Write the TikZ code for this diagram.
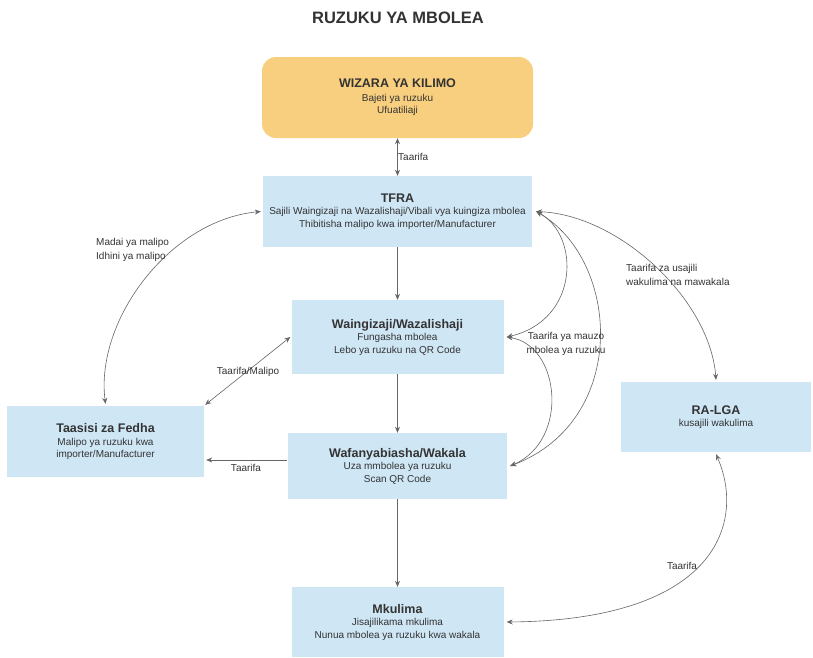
\documentclass[tikz,border=0pt]{standalone}
\usepackage{fontspec}
\setmainfont{Liberation Sans}
\usetikzlibrary{arrows.meta}
\definecolor{boxblue}{HTML}{CFE6F5}
\definecolor{boxorange}{HTML}{F8CF7E}
\definecolor{linegray}{HTML}{666666}
\definecolor{txt}{HTML}{333333}
\newcommand{\ttl}[1]{{\fontsize{12.5}{15}\selectfont\bfseries #1}}
\begin{document}
\begin{tikzpicture}[x=1pt,y=-1pt,
  box/.style={draw=none, fill=boxblue, align=center, inner sep=0pt, text=txt,
              font=\fontsize{10}{12.5}\selectfont},
  orangebox/.style={box, fill=boxorange, rounded corners=14pt},
  lbl/.style={text=txt, font=\fontsize{10}{14.5}\selectfont, inner sep=0pt},
  conn/.style={draw=linegray, line width=0.6pt, -{Stealth[length=6pt,width=5pt]}},
  bidir/.style={draw=linegray, line width=0.6pt, {Stealth[length=6pt,width=5pt]}-{Stealth[length=6pt,width=5pt]}}]
\useasboundingbox (0,0) rectangle (813,657);
\fill[white] (0,0) rectangle (813,657);

\node[text=txt, font=\fontsize{16.5}{18}\selectfont\bfseries] (title) at (398,18) {RUZUKU YA MBOLEA};

\node[orangebox, minimum width=271pt, minimum height=81pt] (wizara) at (397.5,97.5)
  {\ttl{WIZARA YA KILIMO}\\[1pt]Bajeti ya ruzuku\\Ufuatiliaji};
\node[box, minimum width=269pt, minimum height=71pt] (tfra) at (397.5,211.5)
  {\ttl{TFRA}\\Sajili Waingizaji na Wazalishaji/Vibali vya kuingiza mbolea\\Thibitisha malipo kwa importer/Manufacturer};
\node[box, minimum width=212pt, minimum height=74pt] (wain) at (397.5,337)
  {\ttl{Waingizaji/Wazalishaji}\\Fungasha mbolea\\Lebo ya ruzuku na QR Code};
\node[box, minimum width=197pt, minimum height=71pt] (taasisi) at (105.5,441.5)
  {\ttl{Taasisi za Fedha}\\Malipo ya ruzuku kwa\\importer/Manufacturer};
\node[box, minimum width=219pt, minimum height=66pt] (wafa) at (397.5,466)
  {\ttl{Wafanyabiasha/Wakala}\\Uza mmbolea ya ruzuku\\Scan QR Code};
\node[box, minimum width=212pt, minimum height=70pt] (mkulima) at (397.5,622)
  {\ttl{Mkulima}\\Jisajilikama mkulima\\Nunua mbolea ya ruzuku kwa wakala};
\node[box, minimum width=190pt, minimum height=70pt] (ralga) at (716,417)
  {\ttl{RA-LGA}\\kusajili wakulima};

% vertical flow
\draw[bidir] (wizara.south) -- (tfra.north);
\draw[conn] (tfra.south) -- (wain.north);
\draw[conn] (wain.south) -- (wafa.north);
\draw[conn] (wafa.south) -- (mkulima.north);

% left side
\draw[bidir] ([xshift=-2pt]tfra.west) .. controls (170,220) and (95,320) .. ([yshift=2pt]taasisi.north);
\draw[bidir] ([xshift=-1pt]wain.west) -- ([xshift=1pt,yshift=1pt]taasisi.north east);
\coordinate (wl) at ([xshift=-1pt,yshift=6pt]wafa.west);
\draw[conn] (wl) -- ([xshift=2pt]taasisi.east |- wl);

% right side
\draw[bidir] ([xshift=4pt]tfra.east) .. controls (580,235) and (580,320) .. ([xshift=3pt]wain.east);
\draw[bidir] ([xshift=4pt]tfra.east) .. controls (620,260) and (630,420) .. ([xshift=3pt]wafa.east);
\draw[bidir] ([xshift=3pt]wain.east) .. controls (560,345) and (570,440) .. ([xshift=3pt]wafa.east);
\draw[bidir] ([xshift=4pt]tfra.east) .. controls (620,215) and (710,300) .. ([yshift=2pt]ralga.north);
\draw[bidir] ([yshift=-2pt]ralga.south) .. controls (745,520) and (720,620) .. ([xshift=3pt]mkulima.east);

% labels
\node[lbl, anchor=west] (l1) at (398,157) {Taarifa};
\node[lbl, anchor=west, align=left] (l2) at (96,250) {Madai ya malipo\\Idhini ya malipo};
\node[lbl] (l3) at (248,372) {Taarifa/Malipo};
\node[lbl] (l4) at (246,468) {Taarifa};
\node[lbl, align=center] (l5) at (566,344) {Taarifa ya mauzo\\mbolea ya ruzuku};
\node[lbl, anchor=west, align=left] (l6) at (626,275) {Taarifa za usajili\\wakulima na mawakala};
\node[lbl] (l7) at (682,566) {Taarifa};
\end{tikzpicture}
\end{document}
